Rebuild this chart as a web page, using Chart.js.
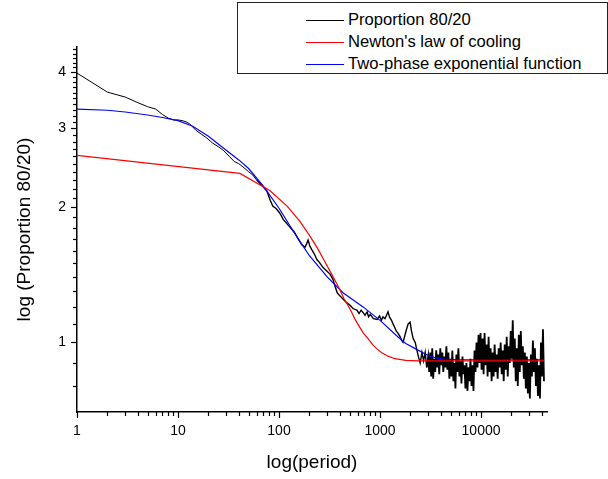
<!DOCTYPE html>
<html>
<head>
<meta charset="utf-8">
<script src="https://cdn.jsdelivr.net/npm/chart.js@4.4.1/dist/chart.umd.min.js"></script>
<style>
  body { margin: 0; background: #fff; }
  #wrap { position: relative; width: 608px; height: 479px; }
  #legend {
    position: absolute; left: 237px; top: 2px; width: 369px; height: 70px;
    border: 1px solid #222; background: #fff;
    font-family: "Liberation Sans", Arial, sans-serif; font-size: 16.6px; color: #000;
  }
  .row { position: absolute; left: 0; height: 20px; line-height: 20px; white-space: nowrap; }
  .row i { position: absolute; left: 68px; top: 10px; width: 38px; height: 1px; }
  .row span { position: absolute; left: 110px; top: 0; }
</style>
</head>
<body>
<div id="wrap">
  <canvas id="chart" width="608" height="479"></canvas>
  <div id="legend"></div>
</div>
<script>
/* Data */

const periods = [
  1, 2, 3, 4, 5, 6, 7, 8, 9, 10, 11, 12, 13, 14, 15, 17, 19, 22, 25, 28, 32, 36, 40, 44,
  50, 55, 60, 65, 70, 76, 82, 87, 93, 102, 110, 122, 130, 142, 155, 168, 181, 188, 194,
  202, 211, 225, 237, 250, 272, 290, 320, 343, 360, 377, 400, 430, 460, 505, 540, 590,
  620, 650, 680, 710, 746, 770, 800, 860, 935, 990, 1030, 1070, 1120, 1160, 1200, 1240,
  1300, 1345, 1400, 1450, 1500, 1580, 1640, 1690, 1750, 1830, 1900, 1985, 2050, 2130,
  2230, 2320, 2400, 2500, 2600, 2700, 2800, 2900,
  3000, 3070, 3140, 3210, 3290, 3360, 3440, 3520, 3600, 3690, 3770, 3860, 3950, 4040,
  4140, 4230, 4330, 4430, 4540, 4640, 4750, 4860, 4970, 5090, 5200, 5330, 5450, 5580,
  5700, 5840, 5970, 6110, 6250, 6400, 6550, 6700, 6850, 7010, 7170, 7340, 7510, 7690,
  7860, 8050, 8230, 8420, 8620, 8820, 9020, 9230, 9450, 9670, 9890, 10120, 10360, 10600,
  10840, 11090, 11350, 11620, 11890, 12160, 12440, 12730, 13030, 13330, 13640, 13960,
  14280, 14610, 14950, 15300, 15650, 16020, 16390, 16770, 17160, 17560, 17960, 18380,
  18810, 19240, 19690, 20150, 20610, 21090, 21580, 22080, 22600, 23120, 23660, 24210,
  24770, 25340, 25930, 26540, 27150, 27780, 28430, 29090, 29760, 30450, 31160, 31890,
  32630, 33390, 34160, 34950, 35770, 36600, 37450, 38320, 39210, 40120, 41050, 42000
];

const proportion = [
  3.98, 3.61, 3.52, 3.42, 3.35, 3.31, 3.22, 3.16, 3.13, 3.13, 3.12, 3.10, 3.07, 3.02, 2.97,
  2.91, 2.86, 2.78, 2.73, 2.68, 2.60, 2.53, 2.50, 2.46,
  2.40, 2.36, 2.30, 2.26, 2.22, 2.17, 2.07, 2.01, 1.99, 1.94, 1.88, 1.83, 1.80, 1.76, 1.70,
  1.65, 1.63, 1.66, 1.69, 1.64, 1.61, 1.57, 1.53, 1.51, 1.47, 1.45, 1.42, 1.38, 1.33,
  1.29, 1.27, 1.25, 1.23, 1.21, 1.19, 1.18, 1.16, 1.18, 1.165, 1.15, 1.17, 1.14, 1.155,
  1.13, 1.125, 1.145, 1.12, 1.14, 1.13, 1.15, 1.17, 1.14, 1.12, 1.10, 1.08, 1.06, 1.05,
  1.03, 1.01, 1.00, 1.03, 1.07, 1.10, 1.11, 1.06, 1.02, 1.00, 0.96, 0.93, 0.90, 0.95,
  0.91, 0.95, 0.88,
  0.93, 0.86, 0.95, 0.84, 0.97, 0.83, 0.92, 0.86, 0.96, 0.88, 0.94, 0.85, 0.97, 0.89,
  0.95, 0.86, 0.93, 0.88, 0.98, 0.87, 0.95, 0.83, 0.92, 0.84, 0.96, 0.82, 0.90, 0.79,
  0.94, 0.86, 0.97, 0.84, 0.91, 0.81, 0.93, 0.85, 0.89, 0.79, 0.90, 0.78, 0.88, 0.82,
  0.92, 0.80, 0.89, 0.78, 0.96, 0.86, 1.00, 0.88, 1.04, 0.90, 1.05, 0.87, 1.02, 0.85,
  1.05, 0.89, 0.99, 0.84, 1.03, 0.86, 0.97, 0.82, 0.95, 0.84, 0.99, 0.86, 0.94, 0.83,
  0.97, 0.88, 1.00, 0.85, 0.96, 0.82, 0.99, 0.87, 1.03, 0.84, 0.98, 0.90, 1.06, 0.92,
  1.12, 0.88, 1.02, 0.82, 0.97, 0.80, 1.04, 0.86, 1.06, 0.89, 0.98, 0.83, 0.95, 0.79,
  0.93, 0.77, 0.90, 0.75, 0.94, 0.84, 1.01, 0.86, 0.97, 0.80, 0.92, 0.76, 0.89, 0.75,
  1.00, 0.84, 1.07, 0.82
];

const newtonPeriods = [1, 41, 81, 121, 161, 201, 241, 281, 321, 361, 401, 441, 481, 521, 561,
  601, 681, 761, 841, 921, 1041, 1201, 1401, 1801, 2401, 5000, 42000];
const newtonValues = [2.61, 2.38, 2.18, 2.01, 1.86, 1.73, 1.62, 1.52, 1.44, 1.37, 1.31, 1.25,
  1.21, 1.17, 1.13, 1.10, 1.05, 1.02, 0.99, 0.97, 0.949, 0.932, 0.920, 0.912, 0.910, 0.910, 0.910];

const twoPhasePeriods = [1, 2, 3, 5, 7, 10, 14, 20, 30, 40, 50, 70, 100, 150, 200, 300, 430,
  680, 1000, 1500, 1800, 2300, 3000, 3500, 4200, 6000, 42000];
const twoPhaseValues = [3.31, 3.29, 3.26, 3.21, 3.17, 3.12, 3.03, 2.88, 2.68, 2.55, 2.44, 2.23,
  1.99, 1.72, 1.56, 1.40, 1.29, 1.20, 1.12, 1.03, 0.995, 0.965, 0.935, 0.925, 0.918, 0.915, 0.915];

const xMajorTicks = [1, 10, 100, 1000, 10000];
const xMinorTicks = [2, 3, 4, 5, 6, 7, 8, 9, 20, 30, 40, 50, 60, 70, 80, 90,
  200, 300, 400, 500, 600, 700, 800, 900, 2000, 3000, 4000, 5000, 6000, 7000, 8000, 9000,
  20000, 30000, 40000];
const yMajorTicks = [1, 2, 3, 4];
const yMinorTicks = [0.8, 0.9, 1.1, 1.2, 1.3, 1.4, 1.5, 1.6, 1.7, 1.8, 1.9,
  2.1, 2.2, 2.3, 2.4, 2.5, 2.6, 2.7, 2.8, 2.9, 3.1, 3.2, 3.3, 3.4, 3.5, 3.6, 3.7, 3.8, 3.9,
  4.1, 4.2, 4.3, 4.4, 4.5];

// order: higher number is drawn first, so the raw data sits under both fits
const series = [
  { label: "Proportion 80/20", color: "#000000", xs: periods, ys: proportion, width: 1, order: 2 },
  { label: "Newton's law of cooling", color: "#ff0000", xs: newtonPeriods, ys: newtonValues, width: 1.2, order: 0 },
  { label: "Two-phase exponential function", color: "#0000ff", xs: twoPhasePeriods, ys: twoPhaseValues, width: 1.2, order: 1 }
];

/* Legend */

const legendEl = document.querySelector("#legend");
series.forEach((s, i) => {
  const row = document.createElement("div");
  row.className = "row";
  row.style.top = (7 + i * 22) + "px";
  row.innerHTML = `<i style="background:${s.color}"></i><span>${s.label}</span>`;
  legendEl.appendChild(row);
});

/* Tick marks: long for majors, short for minors */

const tickMarks = {
  id: "tickMarks",
  afterDraw(chart) {
    const { ctx, chartArea, scales: { x, y } } = chart;
    ctx.save();
    ctx.strokeStyle = "#000";
    ctx.lineWidth = 1.2;
    const xTick = (v, len) => {
      const px = Math.round(x.getPixelForValue(v)) + 0.5;
      ctx.beginPath();
      ctx.moveTo(px, chartArea.bottom);
      ctx.lineTo(px, chartArea.bottom + len);
      ctx.stroke();
    };
    const yTick = (v, len) => {
      const py = Math.round(y.getPixelForValue(v)) + 0.5;
      ctx.beginPath();
      ctx.moveTo(chartArea.left, py);
      ctx.lineTo(chartArea.left - len, py);
      ctx.stroke();
    };
    xMajorTicks.forEach(v => xTick(v, 6));
    xMinorTicks.forEach(v => xTick(v, 4));
    yMajorTicks.forEach(v => yTick(v, 6));
    yMinorTicks.forEach(v => yTick(v, 4));
    ctx.restore();
  }
};

// the raw series gets denser (and visually heavier) as the period grows
function blackWidth(ctx) {
  const p = ctx.p0.parsed.x;
  if (p >= 2900) return 1.8;
  if (p >= 60) return 1.4;
  return 1;
}

const font = "'Liberation Sans', Arial, sans-serif";

new Chart(document.querySelector("#chart"), {
  type: "scatter",
  data: {
    datasets: series.map((s, k) => ({
      label: s.label,
      data: s.xs.map((p, i) => ({ x: p, y: s.ys[i] })),
      order: s.order,
      showLine: true,
      borderColor: s.color,
      borderWidth: s.width,
      segment: k === 0 ? { borderWidth: blackWidth } : {},
      pointRadius: 0,
      tension: 0,
      fill: false
    }))
  },
  options: {
    responsive: false,
    animation: false,
    devicePixelRatio: 1,
    layout: { padding: { top: 47, right: 61, left: 0, bottom: 0 } },
    plugins: { legend: { display: false }, tooltip: { enabled: false } },
    scales: {
      x: {
        type: "logarithmic",
        min: 1,
        max: 45000,
        afterBuildTicks: scale => { scale.ticks = xMajorTicks.map(v => ({ value: v })); },
        afterFit: scale => { scale.height = 67; },
        grid: { display: false, drawTicks: false },
        border: { display: true, color: "#000", width: 1.5 },
        ticks: {
          autoSkip: false,
          maxRotation: 0,
          padding: 11,
          color: "#000",
          font: { family: font, size: 14 },
          callback: v => String(v)
        },
        title: {
          display: true,
          text: "log(period)",
          color: "#000",
          font: { family: font, size: 19 },
          padding: { top: 0, bottom: 5 }
        }
      },
      y: {
        type: "logarithmic",
        min: 0.7,
        max: 4.55,
        afterBuildTicks: scale => { scale.ticks = yMajorTicks.map(v => ({ value: v })); },
        afterFit: scale => { scale.width = 77; },
        grid: { display: false, drawTicks: false },
        border: { display: true, color: "#000", width: 1.5 },
        ticks: {
          autoSkip: false,
          padding: 11,
          color: "#000",
          font: { family: font, size: 14 },
          callback: v => String(v)
        },
        title: {
          display: true,
          text: "log (Proportion 80/20)",
          color: "#000",
          font: { family: font, size: 19 },
          padding: { top: 13, bottom: 0 }
        }
      }
    }
  },
  plugins: [tickMarks]
});
</script>
</body>
</html>
